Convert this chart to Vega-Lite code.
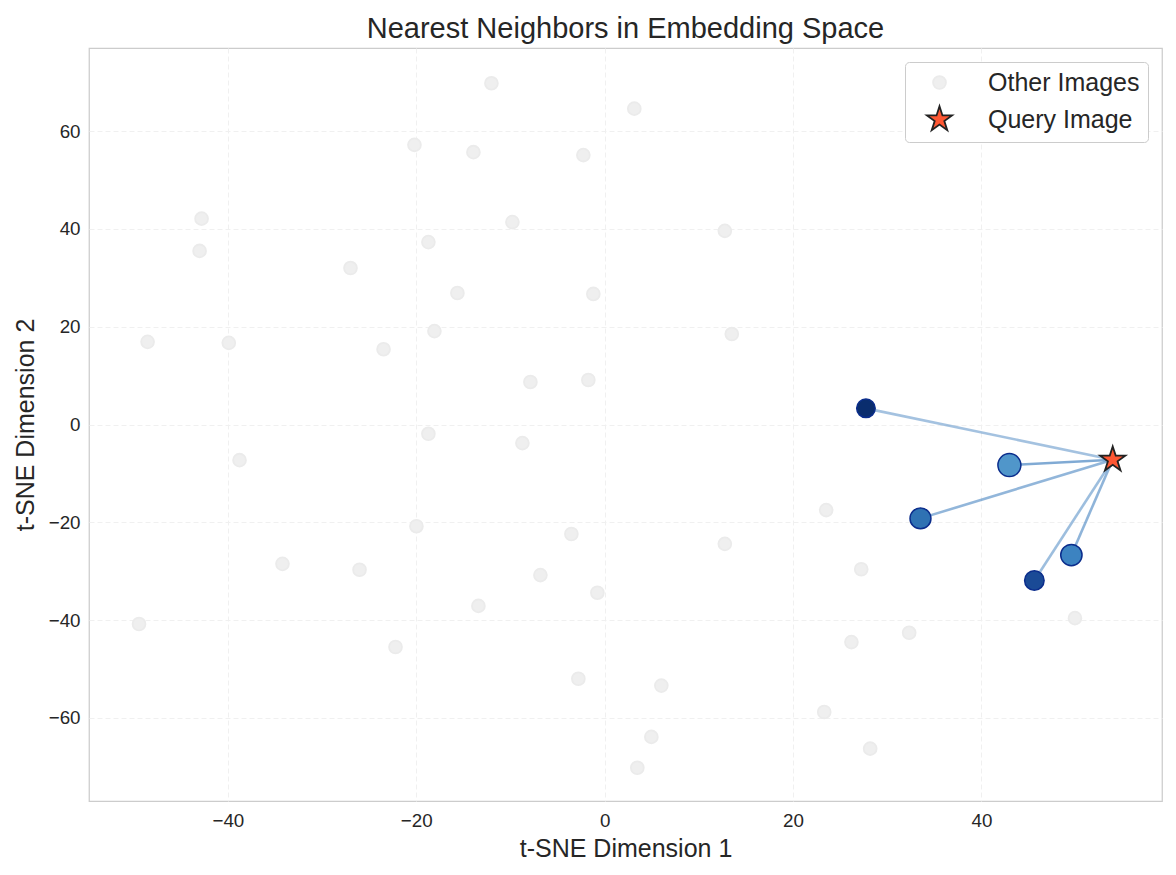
{
  "$schema": "https://vega.github.io/schema/vega-lite/v6.json",
  "width": 1073,
  "height": 753,
  "autosize": {"type": "none"},
  "padding": {"left": 89, "top": 48, "right": 14, "bottom": 74},
  "background": "white",
  "config": {
    "font": "Liberation Sans",
    "view": {"stroke": "#cccccc", "strokeWidth": 1.25},
    "axis": {
      "domain": false,
      "ticks": false,
      "tickSize": 0,
      "grid": true,
      "gridColor": "#f0f0f0",
      "gridDash": [5, 3],
      "gridWidth": 1,
      "labelFont": "Liberation Sans",
      "labelFontSize": 18.75,
      "labelColor": "#262626",
      "titleFont": "Liberation Sans",
      "titleFontSize": 25,
      "titleColor": "#262626",
      "titleFontWeight": "normal"
    },
    "title": {"font": "Liberation Sans", "fontSize": 29, "fontWeight": "normal", "color": "#262626", "offset": 4, "frame": "group", "anchor": "middle"},
    "legend": {
      "orient": "top-right",
      "offset": 14,
      "padding": 8,
      "strokeColor": "#cccccc",
      "fillColor": "white",
      "cornerRadius": 4,
      "labelFont": "Liberation Sans",
      "labelFontSize": 25,
      "labelColor": "#262626",
      "rowPadding": 6,
      "labelOffset": 34,
      "symbolOffset": 12,
      "symbolStrokeWidth": 1.8
    }
  },
  "title": {"text": "Nearest Neighbors in Embedding Space"},
  "datasets": {
    "others": [
      {"x": -12.02, "y": 69.8, "type": "Other Images"},
      {"x": 3.15, "y": 64.6, "type": "Other Images"},
      {"x": -20.19, "y": 57.2, "type": "Other Images"},
      {"x": -13.93, "y": 55.7, "type": "Other Images"},
      {"x": -2.26, "y": 55.1, "type": "Other Images"},
      {"x": -42.79, "y": 42.1, "type": "Other Images"},
      {"x": -9.79, "y": 41.4, "type": "Other Images"},
      {"x": 12.76, "y": 39.6, "type": "Other Images"},
      {"x": -43.0, "y": 35.5, "type": "Other Images"},
      {"x": -18.71, "y": 37.3, "type": "Other Images"},
      {"x": -26.98, "y": 32.0, "type": "Other Images"},
      {"x": -15.63, "y": 26.9, "type": "Other Images"},
      {"x": -1.2, "y": 26.7, "type": "Other Images"},
      {"x": -18.07, "y": 19.1, "type": "Other Images"},
      {"x": 13.5, "y": 18.5, "type": "Other Images"},
      {"x": -48.52, "y": 16.9, "type": "Other Images"},
      {"x": -39.9, "y": 16.7, "type": "Other Images"},
      {"x": -23.47, "y": 15.4, "type": "Other Images"},
      {"x": -7.88, "y": 8.7, "type": "Other Images"},
      {"x": -1.73, "y": 9.1, "type": "Other Images"},
      {"x": -18.71, "y": -1.9, "type": "Other Images"},
      {"x": -8.73, "y": -3.8, "type": "Other Images"},
      {"x": -38.76, "y": -7.3, "type": "Other Images"},
      {"x": 23.52, "y": -17.5, "type": "Other Images"},
      {"x": -19.98, "y": -20.8, "type": "Other Images"},
      {"x": -3.53, "y": -22.4, "type": "Other Images"},
      {"x": 12.76, "y": -24.4, "type": "Other Images"},
      {"x": -34.2, "y": -28.5, "type": "Other Images"},
      {"x": -26.02, "y": -29.7, "type": "Other Images"},
      {"x": -6.82, "y": -30.8, "type": "Other Images"},
      {"x": 27.24, "y": -29.6, "type": "Other Images"},
      {"x": -0.77, "y": -34.4, "type": "Other Images"},
      {"x": -13.4, "y": -37.1, "type": "Other Images"},
      {"x": 49.93, "y": -39.6, "type": "Other Images"},
      {"x": -49.43, "y": -40.8, "type": "Other Images"},
      {"x": 32.33, "y": -42.6, "type": "Other Images"},
      {"x": 26.2, "y": -44.5, "type": "Other Images"},
      {"x": -22.2, "y": -45.5, "type": "Other Images"},
      {"x": -2.79, "y": -52.0, "type": "Other Images"},
      {"x": 6.02, "y": -53.4, "type": "Other Images"},
      {"x": 23.31, "y": -58.8, "type": "Other Images"},
      {"x": 4.96, "y": -63.9, "type": "Other Images"},
      {"x": 28.19, "y": -66.3, "type": "Other Images"},
      {"x": 3.47, "y": -70.2, "type": "Other Images"},
      {"x": 53.94, "y": -7.2, "type": "Query Image"}
    ],
    "neighbors": [
      {"x": 27.74, "y": 3.3, "similarity": 0.6, "qx": 53.94, "qy": -7.2},
      {"x": 45.62, "y": -31.9, "similarity": 0.67, "qx": 53.94, "qy": -7.2},
      {"x": 33.53, "y": -19.2, "similarity": 0.78, "qx": 53.94, "qy": -7.2},
      {"x": 49.55, "y": -26.7, "similarity": 0.81, "qx": 53.94, "qy": -7.2},
      {"x": 42.97, "y": -8.3, "similarity": 0.95, "qx": 53.94, "qy": -7.2}
    ]
  },
  "layer": [
    {
      "data": {"name": "neighbors"},
      "mark": {"type": "rule", "strokeWidth": 2.6, "color": "#4a86c2"},
      "encoding": {
        "x": {"field": "x", "type": "quantitative", "scale": {"domain": [-54.74, 59.17], "nice": false, "zero": false}, "axis": {"values": [-40, -20, 0, 20, 40], "title": "t-SNE Dimension 1", "labelPadding": 10, "titlePadding": 7}},
        "y": {"field": "y", "type": "quantitative", "scale": {"domain": [-77, 77], "nice": false, "zero": false}, "axis": {"values": [-60, -40, -20, 0, 20, 40, 60], "title": "t-SNE Dimension 2", "labelPadding": 9, "titlePadding": 10}},
        "x2": {"field": "qx"},
        "y2": {"field": "qy"},
        "opacity": {"field": "similarity", "type": "quantitative", "scale": {"domain": [0.6, 0.95], "range": [0.5, 0.7]}, "legend": null}
      }
    },
    {
      "data": {"name": "neighbors"},
      "mark": {"type": "point", "shape": "circle", "filled": true, "opacity": 1, "stroke": "#0b2d8c", "strokeWidth": 1.5},
      "encoding": {
        "x": {"field": "x", "type": "quantitative", "scale": {"domain": [-54.74, 59.17], "nice": false, "zero": false}},
        "y": {"field": "y", "type": "quantitative", "scale": {"domain": [-77, 77], "nice": false, "zero": false}},
        "color": {"field": "similarity", "type": "quantitative", "scale": {"domain": [0.6, 0.67, 0.78, 0.81, 0.95], "range": ["#0a2d6e", "#1a4a96", "#2f72b3", "#3c83c1", "#5096ca"]}, "legend": null},
        "size": {"field": "similarity", "type": "quantitative", "scale": {"domain": [0.6, 0.95], "range": [342, 529]}, "legend": null}
      }
    },
    {
      "data": {"name": "others"},
      "mark": {"type": "point", "filled": true, "opacity": 1, "strokeWidth": 1.8},
      "encoding": {
        "x": {"field": "x", "type": "quantitative", "scale": {"domain": [-54.74, 59.17], "nice": false, "zero": false}},
        "y": {"field": "y", "type": "quantitative", "scale": {"domain": [-77, 77], "nice": false, "zero": false}},
        "color": {"field": "type", "type": "nominal", "scale": {"domain": ["Other Images", "Query Image"], "range": ["#efefef", "#ff5733"]}, "legend": {"title": null}},
        "stroke": {"field": "type", "type": "nominal", "scale": {"domain": ["Other Images", "Query Image"], "range": ["#ebebeb", "#222222"]}, "legend": {"title": null}},
        "shape": {"field": "type", "type": "nominal", "scale": {"domain": ["Other Images", "Query Image"], "range": ["circle", "M0,-1L0.2245,-0.309L0.9511,-0.309L0.3633,0.118L0.5878,0.809L0,0.382L-0.5878,0.809L-0.3633,0.118L-0.9511,-0.309L-0.2245,-0.309Z"]}, "legend": {"title": null}},
        "size": {"field": "type", "type": "nominal", "scale": {"domain": ["Other Images", "Query Image"], "range": [165, 700]}, "legend": {"title": null}}
      }
    }
  ],
  "resolve": {"scale": {"color": "independent", "size": "independent", "opacity": "independent", "stroke": "independent", "shape": "independent"}}
}
